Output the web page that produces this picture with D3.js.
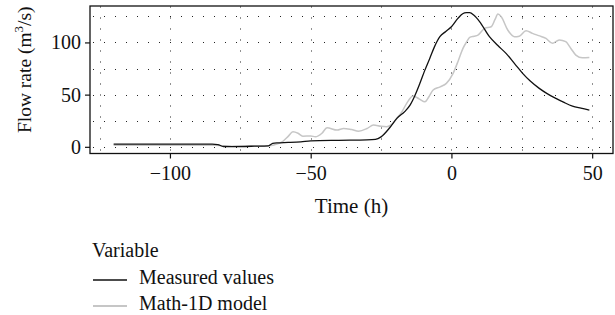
<!DOCTYPE html>
<html>
<head>
<meta charset="utf-8">
<script src="https://cdn.jsdelivr.net/npm/d3@7"></script>
<style>
  body { margin: 0; background: #fff; }
  text { font-family: "Liberation Serif", "DejaVu Serif", serif; fill: #111; }
</style>
</head>
<body>
<svg id="chart" width="615" height="315"></svg>
<script>
// measured flow rate, time (h) / value (m3/s)
const measuredT = [-120, -100, -85, -83, -81, -78, -70, -65, -63.5, -62, -58, -53.5, -50, -40, -30, -27, -25, -22, -19.4, -16.5, -14.7, -13, -11.2, -9.5, -7.7, -6, -4.1, -2, 0, 2.3, 4, 5.3, 6.5, 8, 10, 13.5, 16.5, 19.4, 22.5, 25.3, 28, 31.2, 34, 37.1, 40, 43, 46, 49];
const measuredV = [2.6, 2.6, 2.6, 2.2, 0.3, 0.2, 0.6, 1.0, 3.2, 3.8, 4.2, 4.8, 5.6, 6.2, 6.6, 7.1, 9.5, 18, 27.2, 34, 40, 49, 60.8, 73, 84.7, 96, 105.5, 110.5, 115, 123, 127.5, 128.5, 128.5, 126, 120, 105.5, 97, 89.5, 79.5, 70.4, 63, 56, 51, 46.4, 42.5, 39, 37, 35.2];

// Math-1D model
const modelT = [-120, -100, -84, -81, -75, -70, -65, -63, -60, -58, -56.3, -54.5, -52.8, -50, -48.3, -46, -44.2, -40.6, -38.3, -35.5, -33, -30, -27.7, -25, -23, -21, -19.4, -17.5, -15.9, -13.6, -11.5, -9.4, -8, -6.5, -4, -1.8, 0.6, 2.5, 4.1, 5.5, 6.5, 8, 9.4, 11.8, 14.1, 15.5, 16.5, 17.7, 20, 22.4, 24.1, 26.5, 28.8, 31, 33.6, 35.9, 38.3, 40.6, 42.5, 44.2, 46.5, 49];
const modelV = [1.5, 1.5, 1.5, 0.8, 0.5, 0.8, 1.0, 1.8, 5, 10, 14.4, 13, 10.2, 10.4, 9.6, 13, 18.2, 16, 17.6, 16.5, 15, 17.5, 20.8, 19.6, 19.2, 22, 27.2, 34, 41.6, 48.6, 46, 43.1, 48, 54.4, 57.5, 60.8, 70.4, 83, 94.3, 101, 104.9, 106, 107, 113.5, 115, 122, 127.2, 124.6, 111.9, 105.5, 106, 111.2, 108.7, 106.5, 103.9, 99.1, 102.3, 100.7, 94, 87.9, 85.3, 85.6];

const xTicks = [-100, -50, 0, 50];
const xMinor = [-125, -75, -25, 25];
const yTicks = [0, 50, 100];
const yMinor = [25, 75, 125];

const seriesNames = ["Measured values", "Math-1D model"];
const seriesColors = ["#111111", "#c6c6c6"];

const svg = d3.select("#chart");
const L = 90, R = 613, T = 6, B = 153.5;

const x = d3.scaleLinear().domain([-128.4, 57.4]).range([L, R]);
const y = d3.scaleLinear().domain([-6.4, 134.9]).range([B, T]);

// dotted grid
const grid = svg.append("g").attr("stroke", "#222").attr("stroke-width", 1)
  .attr("stroke-dasharray", "1,10").attr("fill", "none");
grid.selectAll("line.v").data(xTicks.concat(xMinor)).join("line")
  .attr("x1", d => Math.round(x(d)) + 0.5).attr("x2", d => Math.round(x(d)) + 0.5)
  .attr("y1", B - 3).attr("y2", T);
grid.selectAll("line.h").data(yTicks.concat(yMinor)).join("line")
  .attr("x1", L + 3).attr("x2", R)
  .attr("y1", d => Math.round(y(d)) + 0.5).attr("y2", d => Math.round(y(d)) + 0.5);

const line = d3.line().x(d => x(d[0])).y(d => y(d[1])).curve(d3.curveMonotoneX);
const measured = measuredT.map((t, i) => [t, measuredV[i]]);
const model = modelT.map((t, i) => [t, modelV[i]]);

svg.append("path").datum(model).attr("d", line)
  .attr("fill", "none").attr("stroke", seriesColors[1]).attr("stroke-width", 1.5);
svg.append("path").datum(measured).attr("d", line)
  .attr("fill", "none").attr("stroke", seriesColors[0]).attr("stroke-width", 1.3);

// frame
svg.append("rect").attr("x", L).attr("y", T).attr("width", R - L).attr("height", B - T)
  .attr("fill", "none").attr("stroke", "#111").attr("stroke-width", 1.3);

// axes
const xAxis = svg.append("g").attr("transform", `translate(0,${B})`)
  .call(d3.axisBottom(x).tickValues(xTicks).tickSize(5).tickPadding(7)
    .tickFormat(d => d < 0 ? "\u2212" + Math.abs(d) : d));
const yAxis = svg.append("g").attr("transform", `translate(${L},0)`)
  .call(d3.axisLeft(y).tickValues(yTicks).tickSize(5).tickPadding(4));
[xAxis, yAxis].forEach(a => {
  a.select(".domain").remove();
  a.selectAll(".tick line").attr("stroke", "#111").attr("stroke-width", 1.2);
  a.selectAll(".tick text").attr("font-family", "Liberation Serif").attr("font-size", 20).attr("fill", "#111");
});

svg.append("text").attr("x", (L + R) / 2).attr("y", 213).attr("text-anchor", "middle")
  .attr("font-size", 21).text("Time (h)");

const yl = svg.append("text").attr("transform", `translate(31,${(T + B) / 2 - 10}) rotate(-90)`)
  .attr("text-anchor", "middle").attr("font-size", 19.5);
yl.append("tspan").text("Flow rate (m");
yl.append("tspan").attr("font-size", 13).attr("dy", -8).text("3");
yl.append("tspan").attr("dy", 8).text("/s)");

// legend
const lg = svg.append("g");
lg.append("text").attr("x", 92).attr("y", 257).attr("font-size", 20).text("Variable");
seriesNames.forEach((name, i) => {
  const yy = 280 + i * 26;
  lg.append("line").attr("x1", 93).attr("x2", 127).attr("y1", yy).attr("y2", yy)
    .attr("stroke", seriesColors[i]).attr("stroke-width", i ? 1.8 : 1.3);
  lg.append("text").attr("x", 139).attr("y", yy + 4).attr("font-size", 20).text(name);
});
</script>
</body>
</html>
